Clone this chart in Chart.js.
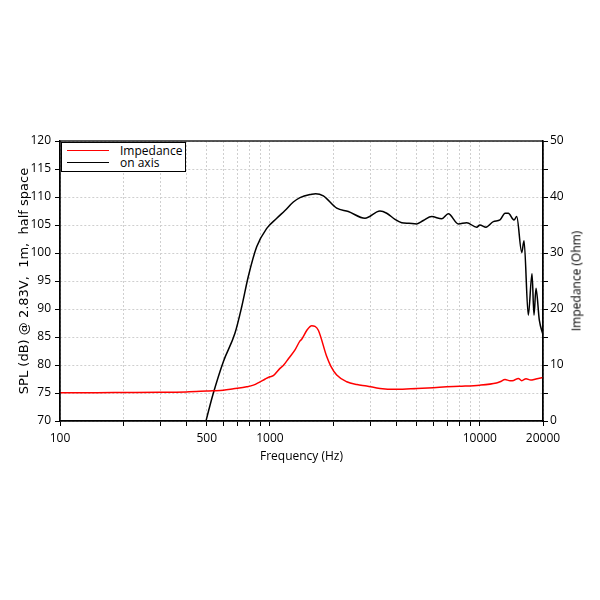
<!DOCTYPE html>
<html>
<head>
<meta charset="utf-8">
<script src="https://cdn.jsdelivr.net/npm/chart.js@4"></script>
<style>
  body { margin: 0; background: #fff; }
  #wrap { position: relative; width: 600px; height: 600px; }
  #leyenda {
    position: absolute; left: 61px; top: 142px; width: 123px; height: 28px;
    border: 1.5px solid #000; background: #fff;
    font-family: "Open Sans", sans-serif; font-size: 12px; color: #000;
  }
  .fila { position: absolute; left: 0; height: 13px; line-height: 13px; }
  .linea { position: absolute; left: 5px; width: 42px; top: 6px; border-top: 1.5px solid; }
  .txt { position: absolute; left: 58px; top: 0; white-space: nowrap; }
  #tituloDer {
    position: absolute; left: 576px; top: 281px; white-space: nowrap;
    font-family: "Open Sans", sans-serif; font-size: 12px; color: #000;
    transform: translate(-50%, -50%) rotate(-90deg);
  }
</style>
</head>
<body>
<div id="wrap">
  <canvas id="grafico" width="600" height="600"></canvas>
  <div id="leyenda">
    <div class="fila" style="top:1px"><span class="linea" style="border-color:#f00"></span><span class="txt">Impedance</span></div>
    <div class="fila" style="top:13px"><span class="linea" style="border-color:#000"></span><span class="txt">on axis</span></div>
  </div>
  <div id="tituloDer">Impedance (Ohm)</div>
</div>
<script>
// on axis SPL (dB)
const splFreq = [490, 496, 537, 600, 682, 734, 789, 865, 966, 1078, 1180, 1293, 1391, 1582, 1650, 1797, 2081, 2363, 2838,
  3345, 3602, 3944, 4246, 4600, 5005, 5381, 5899, 6584, 7080, 7903, 8660, 9665, 10000, 10700, 11600, 12480,
  13190, 13670, 14550, 14990, 15840, 16240, 17020, 17730, 18120, 18520, 19210, 20000];
const splDb = [69.2, 70.0, 74.9, 80.6, 85.7, 90.4, 95.8, 101.1, 104.4, 106.2, 107.6, 109.1, 109.9, 110.5, 110.6, 110.2, 108.0, 107.4, 106.2,
  107.5, 107.1, 106.0, 105.4, 105.3, 105.2, 105.8, 106.5, 106.1, 107.0, 105.2, 105.4, 104.6, 105.0, 104.6, 105.6, 105.9,
  107.1, 107.1, 105.9, 106.5, 100.1, 102.2, 88.9, 96.3, 88.9, 93.7, 88.0, 85.4];

// impedancia (Ohm)
const impFreq = [100, 150, 200, 300, 400, 500, 537, 600, 670, 775, 834, 897, 950, 1000, 1038, 1117, 1158, 1230, 1317, 1391,
  1417, 1500, 1582, 1640, 1701, 1865, 1950, 2081, 2322, 2600, 2891, 3345, 4020, 5005, 6000, 6955, 8000, 10000,
  12000, 12480, 13190, 13930, 14500, 15260, 15840, 16600, 17470, 18500, 20000];
const impOhm = [5.05, 5.05, 5.08, 5.12, 5.2, 5.35, 5.4, 5.5, 5.75, 6.1, 6.4, 7.0, 7.5, 7.9, 8.1, 9.4, 9.9, 11.2, 12.7, 14.3,
  14.6, 16.2, 17.0, 16.9, 16.2, 11.5, 9.8, 8.2, 7.0, 6.5, 6.25, 5.8, 5.65, 5.8, 5.95, 6.1, 6.2, 6.4,
  6.8, 7.0, 7.4, 7.2, 7.25, 7.6, 7.2, 7.55, 7.3, 7.5, 7.75];

const xTicks = [100, 200, 300, 400, 500, 600, 700, 800, 900, 1000, 2000, 3000, 4000, 5000, 6000, 7000, 8000, 9000, 10000, 20000];
const xLabels = [100, 500, 1000, 10000, 20000];

const fuente = { family: "Open Sans", size: 12 };

const marco = {
  id: 'marco',
  afterDraw(chart) {
    const a = chart.chartArea, ctx = chart.ctx;
    ctx.save();
    ctx.strokeStyle = '#000';
    ctx.lineWidth = 1.3;
    ctx.strokeRect(a.left, a.top, a.right - a.left, a.bottom - a.top);
    ctx.restore();
  }
};

new Chart(document.getElementById('grafico').getContext('2d'), {
  type: 'line',
  data: {
    datasets: [{
      label: 'Impedance',
      data: impFreq.map((f, i) => ({ x: f, y: impOhm[i] })),
      yAxisID: 'y1',
      borderColor: '#f00',
      borderWidth: 1.5,
      pointRadius: 0,
      cubicInterpolationMode: 'monotone'
    }, {
      label: 'on axis',
      data: splFreq.map((f, i) => ({ x: f, y: splDb[i] })),
      yAxisID: 'y',
      borderColor: '#000',
      borderWidth: 1.5,
      pointRadius: 0,
      cubicInterpolationMode: 'monotone'
    }]
  },
  options: {
    responsive: false,
    animation: false,
    layout: { padding: { left: 13, top: 141, right: 13, bottom: 132 } },
    plugins: { legend: { display: false }, tooltip: { enabled: false } },
    scales: {
      x: {
        type: 'logarithmic', min: 100, max: 20000,
        afterBuildTicks: s => { s.ticks = xTicks.map(v => ({ value: v })); },
        afterFit: s => { s.height = 47; },
        ticks: {
          autoSkip: false, maxRotation: 0, padding: 5, color: '#000', font: fuente,
          callback: v => xLabels.includes(v) ? String(v) : ''
        },
        grid: { color: '#cfcfcf', tickColor: '#000', tickLength: 5, tickBorderDash: [] },
        border: { color: '#000', width: 1.3, dash: [2, 2] },
        title: { display: true, text: 'Frequency (Hz)', color: '#000', font: fuente, padding: 4 }
      },
      y: {
        position: 'left', min: 70, max: 120,
        afterFit: s => { s.width = 47; },
        ticks: { stepSize: 5, padding: 4, color: '#000', font: fuente },
        grid: { color: '#cfcfcf', tickColor: '#000', tickLength: 5, tickBorderDash: [] },
        border: { color: '#000', width: 1.3, dash: [2, 2] },
        title: { display: true, text: 'SPL (dB) @ 2.83V,  1m,  half space', color: '#000',
          font: { family: "DejaVu Sans", size: 13 }, padding: 4 }
      },
      y1: {
        position: 'right', min: 0, max: 50,
        afterFit: s => { s.width = 44; },
        ticks: { stepSize: 5, padding: 2, color: '#000', font: fuente,
          callback: v => v % 10 === 0 ? String(v) : '' },
        grid: { drawOnChartArea: false, tickColor: '#000', tickLength: 5 },
        border: { color: '#000', width: 1.3 }
      }
    }
  },
  plugins: [marco]
});
</script>
</body>
</html>
